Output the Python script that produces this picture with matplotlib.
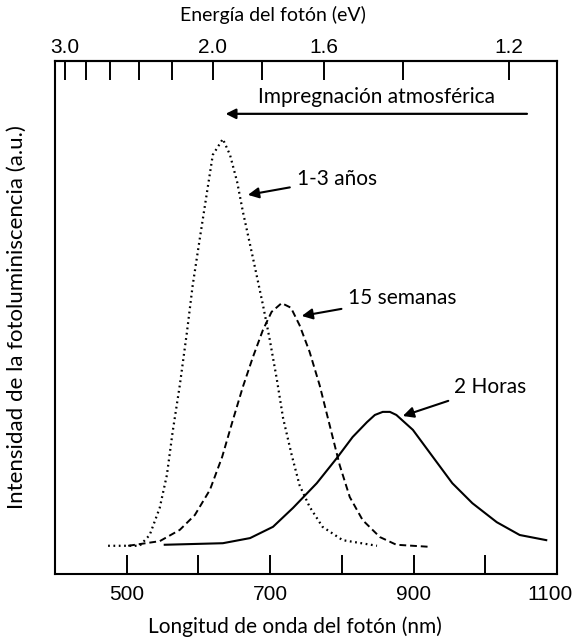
import matplotlib
matplotlib.use("Agg")
import matplotlib.pyplot as plt
import matplotlib.transforms as mtransforms

# wavelength (nm) / intensity (a.u.)
wl_anos = [474, 518, 532, 546, 556, 564, 574, 584, 592, 602, 612, 620, 634, 644, 654, 662, 676,
           690, 699, 709, 718, 730, 741, 755, 773, 801, 849]
pl_anos = [0.055, 0.055, 0.076, 0.129, 0.193, 0.277, 0.368, 0.472, 0.563, 0.655, 0.745, 0.817,
           0.848, 0.817, 0.764, 0.706, 0.616, 0.524, 0.460, 0.382, 0.304, 0.232, 0.173, 0.131,
           0.092, 0.066, 0.055]

wl_semanas = [502, 546, 574, 595, 616, 633, 648, 662, 676, 690, 702, 716, 729, 741, 755, 769,
              783, 797, 811, 829, 853, 876, 922]
pl_semanas = [0.055, 0.064, 0.086, 0.115, 0.164, 0.228, 0.300, 0.365, 0.423, 0.476, 0.511, 0.528,
              0.519, 0.485, 0.433, 0.368, 0.290, 0.212, 0.150, 0.105, 0.072, 0.057, 0.053]

wl_horas = [553, 634, 672, 704, 732, 765, 793, 815, 835, 846, 857, 867, 876, 899, 927, 954, 982,
            1016, 1048, 1085]
pl_horas = [0.057, 0.060, 0.070, 0.092, 0.129, 0.177, 0.226, 0.267, 0.296, 0.310, 0.316, 0.316,
            0.310, 0.281, 0.228, 0.177, 0.138, 0.101, 0.076, 0.066]

x_ticks = [500, 600, 700, 800, 900, 1000, 1100]
x_labels = ["500", "", "700", "", "900", "", "1100"]
ev_ticks = [3.0, 2.8, 2.6, 2.4, 2.2, 2.0, 1.8, 1.6, 1.4, 1.2]
ev_labels = ["3.0", "", "", "", "", "2.0", "", "1.6", "", "1.2"]

txt_font = "Lato"
num_font = "Liberation Sans"

fig = plt.figure(figsize=(5.75, 6.44), dpi=100)
ax = fig.add_axes([0.0957, 0.1087, 0.873, 0.7966])

ax.plot(wl_anos, pl_anos, color="black", lw=1.6, linestyle=(0, (0.8, 1.6)))
ax.plot(wl_semanas, pl_semanas, color="black", lw=1.4, linestyle=(0, (3.5, 2)))
ax.plot(wl_horas, pl_horas, color="black", lw=1.5, linestyle="-")

ax.set_xlim(400, 1100)
ax.set_ylim(0, 1)
ax.set_yticks([])
ax.set_xticks(x_ticks)
ax.set_xticklabels(x_labels, fontfamily=num_font, fontsize=15)
ax.tick_params(axis="x", direction="in", length=13.5, width=1.4, pad=8)
# last label sits against the right edge
last = ax.get_xticklabels()[-1]
last.set_transform(last.get_transform() + mtransforms.ScaledTranslation(-7 / 100, 0, fig.dpi_scale_trans))
for s in ax.spines.values():
    s.set_linewidth(1.5)

top = ax.secondary_xaxis("top", functions=(lambda x: 1240.0 / x, lambda e: 1240.0 / e))
top.set_xticks(ev_ticks)
top.set_xticklabels(ev_labels, fontfamily=num_font, fontsize=15)
top.tick_params(axis="x", direction="in", length=13.5, width=1.4, pad=3)
top.spines["top"].set_linewidth(1.5)
fig.text(0.475, 0.977, "Energía del fotón (eV)", ha="center", va="center",
         fontfamily=txt_font, fontsize=14)

ax.set_xlabel("Longitud de onda del fotón (nm)", fontfamily=txt_font, fontsize=15)
ax.xaxis.set_label_coords(0.478, -0.083)
ax.set_ylabel("Intensidad de la fotoluminiscencia (a.u.)", fontfamily=txt_font, fontsize=16)
ax.yaxis.set_label_coords(-0.056, 0.5)

# atmospheric arrow
ax.annotate("", xy=(634, 0.897), xytext=(1062, 0.897),
            arrowprops=dict(arrowstyle="-|>", color="black", lw=1.6, mutation_scale=15))
ax.text(848, 0.93, "Impregnación atmosférica", ha="center", va="center",
        fontfamily=txt_font, fontsize=15)

# curve labels
arrow_kw = dict(arrowstyle="-|>", color="black", lw=1.5, mutation_scale=16, shrinkA=3, shrinkB=0)
ax.annotate("1-3 años", xy=(669, 0.739), xytext=(737, 0.77), va="center",
            fontfamily=txt_font, fontsize=15, arrowprops=arrow_kw)
ax.annotate("15 semanas", xy=(744, 0.503), xytext=(809, 0.538), va="center",
            fontfamily=txt_font, fontsize=15, arrowprops=arrow_kw)
ax.annotate("2 Horas", xy=(885, 0.308), xytext=(957, 0.365), va="center",
            fontfamily=txt_font, fontsize=15, arrowprops=arrow_kw)

fig.savefig("out.png", dpi=100)
